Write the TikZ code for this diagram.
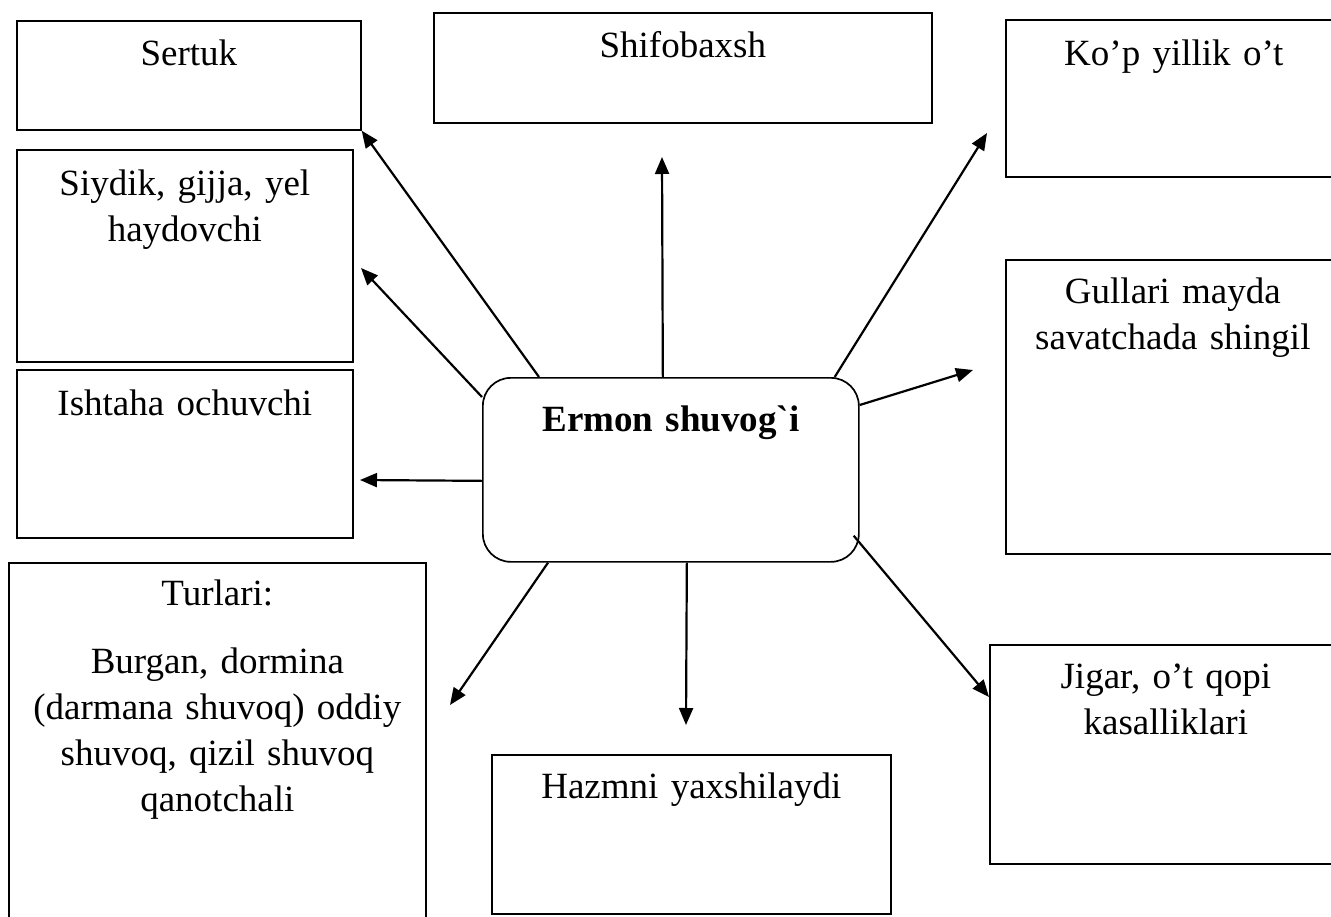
\documentclass[tikz,border=0pt]{standalone}
\usepackage{fontspec}
\setmainfont{Liberation Serif}[Ligatures=TeXOff]
\usetikzlibrary{arrows.meta,calc}

\tikzset{
	box/.style={draw, line width=1.7pt, anchor=north west, inner sep=0pt, align=center,
		font=\fontsize{37}{46}\selectfont},
	arr/.style={line width=2.2pt, -{Triangle[length=17pt,width=14pt]}}
}

\begin{document}
\begin{tikzpicture}[x=1pt, y=-1pt]
			%%%%% START %%%%%
			
			\fill[white] (0,0) rectangle (1331,916);
			\useasboundingbox (0,0) rectangle (1331,916);
			
			\node[box, rounded corners=28pt, text width=376pt, text height=54pt, text depth=130pt,
				font=\bfseries\fontsize{37}{46}\selectfont] (hub) at (482,377) {Ermon shuvog`i};
			
			\node[box, text width=344pt, text height=45pt, text depth=64pt] (sertuk) at (16,20) {Sertuk};
			\node[box, text width=336pt, text height=46pt, text depth=166pt] (siydik) at (16,149) {Siydik, gijja, yel\\haydovchi};
			\node[box, text width=336pt, text height=46pt, text depth=122pt] (ishtaha) at (16,369) {Ishtaha ochuvchi};
			\node[box, text width=417pt, text height=43pt, text depth=325pt] (turlari) at (8,562)
				{Turlari:\\[22pt]Burgan, dormina\\(darmana shuvoq) oddiy\\shuvoq, qizil shuvoq\\qanotchali};
			
			\node[box, text width=498pt, text height=45pt, text depth=65pt] (shifo) at (433,12) {Shifobaxsh};
			\node[box, text width=399pt, text height=44pt, text depth=115pt] (hazm) at (491,754) {Hazmni yaxshilaydi};
			
			\node[box, text width=336pt, text height=46pt, text depth=111pt] (kop) at (1005,19) {Ko’p yillik o’t};
			\node[box, text width=334pt, text height=44pt, text depth=250pt] (gullari) at (1005,259) {Gullari mayda\\savatchada shingil};
			\node[box, text width=352pt, text height=44pt, text depth=175pt] (jigar) at (989,644) {Jigar, o’t qopi\\kasalliklari};
			
			% arrow tips
			\coordinate (tSiydik) at (361,268);
			\coordinate (tIshtaha) at (360,480);
			\coordinate (tTurlari) at (450,705);
			\coordinate (tShifo) at (662,157);
			\coordinate (tHazm) at (686,725);
			\coordinate (tKop) at (987,133);
			\coordinate (tGullari) at (973,370);
			\coordinate (tJigar) at (989,697);
			
			\draw[arr] ($(hub.north west)+(57,0)$) -- (sertuk.south east);
			\draw[arr] ($(hub.north west)+(0,20)$) -- (tSiydik);
			\draw[arr] ($(hub.west)+(0,11)$) -- (tIshtaha);
			\draw[arr] ($(hub.south west)+(66,0)$) -- (tTurlari);
			\draw[arr] ($(hub.north)+(-8,0)$) -- (tShifo);
			\draw[arr] ($(hub.south)+(16,0)$) -- (tHazm);
			\draw[arr] ($(hub.north east)+(-25,0)$) -- (tKop);
			\draw[arr] ($(hub.north east)+(0,28)$) -- (tGullari);
			\draw[arr] ($(hub.south east)+(-6,-27)$) -- (tJigar);
			
			%%%%% END %%%%%
\end{tikzpicture}
\end{document}
